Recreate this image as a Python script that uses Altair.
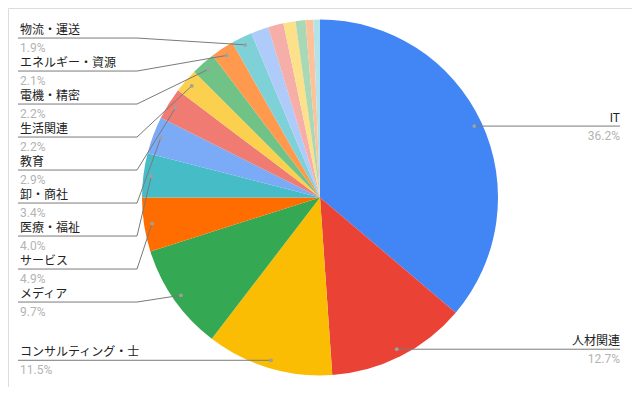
import math
import altair as alt
import pandas as pd

# ---- data ----
categories = ["IT", "人材関連", "コンサルティング・士", "メディア", "サービス", "医療・福祉",
              "卸・商社", "教育", "生活関連", "電機・精密", "エネルギー・資源", "物流・運送",
              "その他1", "その他2", "その他3", "その他4", "その他5", "その他6"]
values = [36.2, 12.7, 11.5, 9.7, 4.9, 4.0, 3.4, 2.9, 2.2, 2.2, 2.1, 1.9,
          1.6, 1.4, 1.1, 0.9, 0.7, 0.6]
labeled = [True] * 12 + [False] * 6
colors = ["#4285F4", "#EA4335", "#FBBC04", "#34A853", "#FF6D01", "#46BDC6",
          "#7BAAF7", "#F07B72", "#FCD04F", "#71C287", "#FF994D", "#7ED1D7",
          "#AECBFA", "#F6AEA9", "#FDE08A", "#A8D8B5", "#FDC29A", "#B3E3E9"]

# ---- layout / style constants ----
W, H = 624, 379
R = 178
DOT_R = 170
GAP = 33
LEFT_START, LEFT_ELBOW = -302, -183
RIGHT_END, RIGHT_ELBOW = 300, 183
FONT = "Roboto, 'Noto Sans CJK JP', sans-serif"

total = sum(values)
rows = []
cum = 0.0
for i, (c, v) in enumerate(zip(categories, values)):
    mid = (cum + v / 2) / total * 2 * math.pi
    cum += v
    dx = DOT_R * math.sin(mid)
    dy = -DOT_R * math.cos(mid)
    rows.append(dict(idx=i, category=c, value=v, pct=f"{v:.1f}%",
                     dx=dx, dy=dy, side="right" if dx > 0 else "left",
                     labeled=labeled[i]))
pie_df = pd.DataFrame(rows)


def layout(items):
    """items sorted by dy. Chains of labels pushed together by a forward pass
    are centred between their first and last natural positions."""
    if not items:
        return
    clusters = [[items[0]]]
    y = items[0]["dy"]
    for it in items[1:]:
        if it["dy"] < y + GAP:
            clusters[-1].append(it)
            y = y + GAP
        else:
            clusters.append([it])
            y = it["dy"]
    while True:
        pos = []
        for cl in clusters:
            centre = (cl[0]["dy"] + cl[-1]["dy"]) / 2
            n = len(cl)
            pos.append([centre + (k - (n - 1) / 2) * GAP for k in range(n)])
        merged = False
        for j in range(len(clusters) - 1):
            if pos[j][-1] + GAP > pos[j + 1][0]:
                clusters[j] = clusters[j] + clusters[j + 1]
                del clusters[j + 1]
                merged = True
                break
        if not merged:
            break
    for cl, ps in zip(clusters, pos):
        for it, p in zip(cl, ps):
            it["ly"] = p


lab = [r for r in rows if r["labeled"]]
for side in ("left", "right"):
    layout(sorted([r for r in lab if r["side"] == side], key=lambda r: r["dy"]))

line_rows = []
for r in lab:
    if r["side"] == "left":
        r["tx"] = LEFT_START + 2
        pts = [(LEFT_START, r["ly"]), (LEFT_ELBOW, r["ly"]), (r["dx"], r["dy"])]
    else:
        r["tx"] = RIGHT_END
        pts = [(r["dx"], r["dy"]), (RIGHT_ELBOW, r["ly"]), (RIGHT_END, r["ly"])]
    for s, (x, y) in enumerate(pts):
        line_rows.append(dict(category=r["category"], seq=s, x=x, y=y))
lab_df = pd.DataFrame(lab)
line_df = pd.DataFrame(line_rows)

xs = alt.Scale(domain=[-W / 2, W / 2], nice=False, zero=False)
ys = alt.Scale(domain=[-H / 2, H / 2], nice=False, zero=False, reverse=True)

arc = alt.Chart(pie_df).mark_arc(radius=R).encode(
    theta=alt.Theta("value:Q", stack=True),
    color=alt.Color("category:N", scale=alt.Scale(domain=categories, range=colors), legend=None),
    order=alt.Order("idx:Q"),
)

lines = alt.Chart(line_df).mark_line(color="#7a7a7a", strokeWidth=1).encode(
    x=alt.X("x:Q", scale=xs, axis=None),
    y=alt.Y("y:Q", scale=ys, axis=None),
    detail="category:N",
    order="seq:Q",
)

dots = alt.Chart(lab_df).mark_circle(size=14, color="#a0a0a0", opacity=1).encode(
    x=alt.X("dx:Q", scale=xs, axis=None),
    y=alt.Y("dy:Q", scale=ys, axis=None),
)


def texts(side, align, field, dy, color):
    return alt.Chart(lab_df).transform_filter(alt.datum.side == side).mark_text(
        align=align, baseline="alphabetic", dy=dy, fontSize=12, font=FONT, color=color
    ).encode(
        x=alt.X("tx:Q", scale=xs, axis=None),
        y=alt.Y("ly:Q", scale=ys, axis=None),
        text=f"{field}:N",
    )


chart = alt.layer(
    arc, lines, dots,
    texts("left", "left", "category", -4, "#222222"),
    texts("right", "right", "category", -4, "#222222"),
    texts("left", "left", "pct", 14, "#b3b3b3"),
    texts("right", "right", "pct", 14, "#b3b3b3"),
).properties(
    width=W, height=H, padding=0,
    autosize=alt.AutoSizeParams(type="none"),
).configure_view(stroke=None).configure(background="white")

chart.save("out.html", embed_options={"renderer": "svg", "actions": False})
